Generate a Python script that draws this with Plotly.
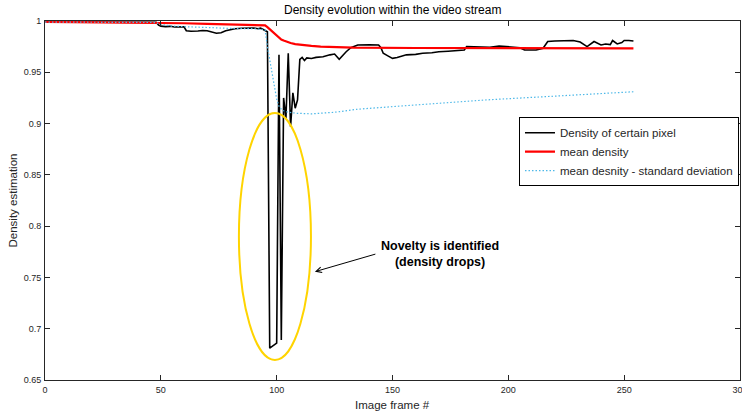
import plotly.graph_objects as go

# ---- data ----
frames_pixel = [0, 10, 20, 30, 40, 48, 49, 50, 52, 54, 56, 58, 60, 61, 63, 66, 68, 70, 72, 74, 76, 78,
                80, 82, 85, 88, 90, 92, 93, 94, 95, 96, 97, 98, 99, 100, 101, 102, 103, 104, 105, 106,
                107, 108, 109, 110, 111, 112, 113, 115, 117, 120, 123, 125, 127, 129, 130, 132, 133,
                135, 140, 144, 145, 146, 148, 150, 152, 156, 160, 163, 167, 170, 174, 178, 181, 182,
                186, 190, 192, 196, 200, 205, 207, 210, 212, 215, 217, 220, 224, 228, 231, 234, 237,
                240, 242, 244, 245, 247, 249, 250, 252, 254]
density_pixel = [0.9990, 0.9988, 0.9987, 0.9988, 0.9987, 0.9987, 0.9960, 0.9950, 0.9945, 0.9948, 0.9942,
                 0.9945, 0.9944, 0.9905, 0.9900, 0.9902, 0.9908, 0.9905, 0.9890, 0.9880, 0.9885, 0.9905,
                 0.9915, 0.9925, 0.9930, 0.9935, 0.9932, 0.9925, 0.9930, 0.9920, 0.9905, 0.9895, 0.6810,
                 0.6827, 0.6843, 0.6860, 0.9670, 0.6890, 0.9250, 0.9050, 0.9685, 0.8970, 0.9300, 0.9150,
                 0.9230, 0.9625, 0.9645, 0.9615, 0.9640, 0.9635, 0.9645, 0.9652, 0.9670, 0.9678, 0.9627,
                 0.9680, 0.9700, 0.9740, 0.9750, 0.9766, 0.9768, 0.9766, 0.9740, 0.9685, 0.9660, 0.9636,
                 0.9645, 0.9670, 0.9675, 0.9685, 0.9690, 0.9700, 0.9705, 0.9710, 0.9717, 0.9750, 0.9748,
                 0.9752, 0.9744, 0.9756, 0.9750, 0.9740, 0.9717, 0.9720, 0.9717, 0.9734, 0.9800, 0.9805,
                 0.9808, 0.9810, 0.9795, 0.9750, 0.9800, 0.9766, 0.9776, 0.9770, 0.9810, 0.9776, 0.9790,
                 0.9810, 0.9810, 0.9805]

frames_mean = [0, 20, 48, 60, 70, 80, 90, 95, 96, 97, 98, 99, 100, 101, 102, 103, 104, 106, 108, 111,
               115, 119, 133, 160, 200, 254]
mean_density = [0.9992, 0.9988, 0.9985, 0.9978, 0.9972, 0.9967, 0.9962, 0.9958, 0.9940, 0.9920, 0.9900,
                0.9880, 0.9855, 0.9835, 0.9820, 0.9810, 0.9800, 0.9785, 0.9775, 0.9765, 0.9757, 0.9750,
                0.9740, 0.9737, 0.9735, 0.9733]

frames_std = [0, 48, 50, 55, 60, 70, 80, 90, 95, 96, 97, 98, 99, 100, 101, 102, 103, 105, 109, 115, 125,
              135, 150, 170, 190, 210, 230, 254]
mean_minus_std = [0.9990, 0.9985, 0.9965, 0.9950, 0.9945, 0.9935, 0.9928, 0.9925, 0.9915, 0.9750, 0.9620,
                  0.9480, 0.9350, 0.9240, 0.9170, 0.9140, 0.9125, 0.9110, 0.9100, 0.9095, 0.9110, 0.9140,
                  0.9165, 0.9200, 0.9230, 0.9255, 0.9280, 0.9310]

x_ticks = [0, 50, 100, 150, 200, 250, 300]
y_ticks = [0.65, 0.7, 0.75, 0.8, 0.85, 0.9, 0.95, 1.0]
y_tick_labels = ["0.65", "0.7", "0.75", "0.8", "0.85", "0.9", "0.95", "1"]

series_names = ["Density of certain pixel", "mean density", "mean desnity - standard deviation"]
title_text = "Density evolution within the video stream"
note_lines = ["Novelty is identified", "(density drops)"]

FONT = "Liberation Sans, Arial, sans-serif"
AX = "#262626"

fig = go.Figure()
fig.add_trace(go.Scatter(x=frames_pixel, y=density_pixel, mode="lines", name=series_names[0],
                         line=dict(color="#000000", width=1.6)))
fig.add_trace(go.Scatter(x=frames_mean, y=mean_density, mode="lines", name=series_names[1],
                         line=dict(color="#ff0000", width=2.2)))
fig.add_trace(go.Scatter(x=frames_std, y=mean_minus_std, mode="lines", name=series_names[2],
                         line=dict(color="#4db8e8", width=1.2, dash="1.5px,2px")))

axis_common = dict(showline=True, linecolor=AX, linewidth=1, mirror="ticks", ticks="inside",
                   ticklen=5, tickcolor=AX, showgrid=False, zeroline=False, automargin=False,
                   ticklabeloverflow="allow",
                   tickfont=dict(family=FONT, size=9, color=AX))

fig.update_xaxes(range=[0, 300], tickvals=x_ticks, ticklabelstandoff=1, **axis_common)
fig.update_yaxes(range=[0.65, 1.0], tickvals=y_ticks, ticktext=y_tick_labels, ticklabelstandoff=1,
                 **axis_common)

# Yellow ellipse around the drops
fig.add_shape(type="circle", xref="x", yref="y", x0=83.7, x1=114.8, y0=0.6695, y1=0.9102,
              line=dict(color="#ffd400", width=2))

annotations = [
    dict(text=title_text, xref="paper", yref="paper", x=0.5, y=1, yshift=11, showarrow=False,
         font=dict(family=FONT, size=12, color="#000000"), xanchor="center", yanchor="middle"),
    dict(text="Image frame #", xref="paper", yref="paper", x=0.5, y=0, yshift=-25, showarrow=False,
         font=dict(family=FONT, size=11.5, color=AX), xanchor="center", yanchor="middle"),
    dict(text="Density estimation", xref="paper", yref="paper", x=0, y=0.5, xshift=-33, showarrow=False,
         textangle=-90, font=dict(family=FONT, size=11.5, color=AX), xanchor="center", yanchor="middle"),
    dict(text="<b>" + note_lines[0] + "</b><br><b>" + note_lines[1] + "</b>", xref="x", yref="y",
         x=170.4, y=0.7733, showarrow=False, align="center",
         font=dict(family=FONT, size=12.5, color="#000000"), xanchor="center", yanchor="middle"),
    dict(text="", xref="x", yref="y", x=116.5, y=0.7556, ax=62, ay=-18, axref="pixel", ayref="pixel",
         showarrow=True, arrowhead=5, arrowsize=1.1, arrowwidth=1, arrowcolor="#000000"),
]

fig.update_layout(
    width=742, height=417,
    margin=dict(l=45, r=2, t=21, b=37, autoexpand=False),
    paper_bgcolor="white", plot_bgcolor="white",
    font=dict(family=FONT, color=AX),
    showlegend=True,
    legend=dict(x=0.682, y=0.732, xanchor="left", yanchor="top", bgcolor="white",
                bordercolor="#000000", borderwidth=1, font=dict(family=FONT, size=11.5, color=AX),
                tracegroupgap=0),
    annotations=annotations,
)

fig.write_html("out.html", config={"displayModeBar": False},
               post_script="document.body.style.margin='0';document.body.style.padding='0';"
                           "document.body.style.overflow='hidden';")
